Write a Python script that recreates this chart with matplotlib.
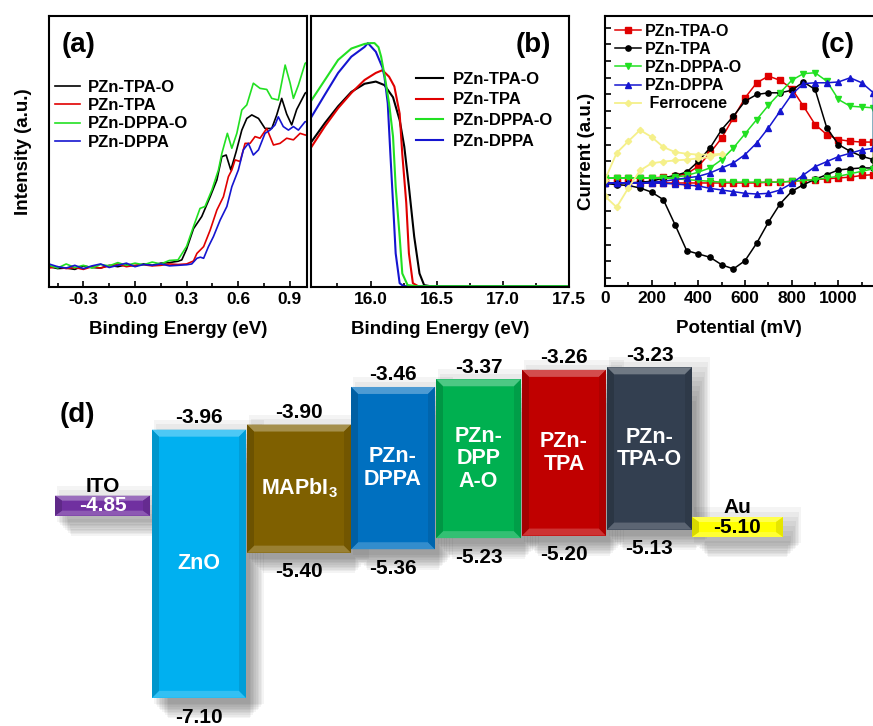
import matplotlib
matplotlib.use("Agg")
import matplotlib.pyplot as plt
import matplotlib.colors as mcolors
from matplotlib.patches import Polygon, Rectangle
from matplotlib.ticker import MultipleLocator

plt.rcParams['font.family'] = ['Liberation Sans', 'DejaVu Sans']
plt.rcParams['font.weight'] = 'bold'
plt.rcParams['mathtext.fontset'] = 'custom'
plt.rcParams['mathtext.rm'] = 'Liberation Sans:bold'
plt.rcParams['mathtext.bf'] = 'Liberation Sans:bold'

# ---------------- Panel (a): UPS onset ----------------
a_green_x = [-0.50, -0.45, -0.40, -0.35, -0.30, -0.25, -0.20, -0.15, -0.10, -0.05, 0.00, 0.05, 0.10, 0.15, 0.20, 0.25,
             0.30, 0.34, 0.378, 0.407, 0.447, 0.485, 0.505, 0.537, 0.563, 0.592, 0.621, 0.65, 0.688, 0.727, 0.766,
             0.795, 0.833, 0.873, 0.902, 0.921, 0.95, 0.989, 1.0]
a_green_y = [0.080, 0.070, 0.085, 0.072, 0.080, 0.070, 0.083, 0.078, 0.090, 0.080, 0.088, 0.082, 0.092, 0.085, 0.098, 0.100,
             0.150, 0.223, 0.290, 0.297, 0.358, 0.432, 0.493, 0.567, 0.512, 0.567, 0.653, 0.672, 0.752, 0.733, 0.729,
             0.696, 0.690, 0.819, 0.752, 0.696, 0.745, 0.825, 0.830]
a_black_x = [-0.50, -0.45, -0.40, -0.35, -0.30, -0.25, -0.20, -0.15, -0.10, -0.05, 0.00, 0.05, 0.10, 0.15, 0.20, 0.25,
             0.272, 0.30, 0.34, 0.388, 0.437, 0.476, 0.505, 0.53, 0.557, 0.588, 0.621, 0.65, 0.679, 0.718, 0.756,
             0.795, 0.824, 0.853, 0.882, 0.911, 0.94, 0.989, 1.0]
a_black_y = [0.075, 0.068, 0.070, 0.065, 0.078, 0.072, 0.070, 0.080, 0.075, 0.082, 0.078, 0.085, 0.080, 0.088, 0.090, 0.095,
             0.100, 0.140, 0.215, 0.260, 0.333, 0.395, 0.481, 0.487, 0.432, 0.499, 0.579, 0.622, 0.635, 0.622, 0.585,
             0.585, 0.635, 0.696, 0.638, 0.598, 0.655, 0.715, 0.720]
a_red_x = [-0.50, -0.45, -0.40, -0.35, -0.30, -0.25, -0.20, -0.15, -0.10, -0.05, 0.00, 0.05, 0.10, 0.15, 0.20, 0.25,
           0.30, 0.34, 0.36, 0.399, 0.437, 0.476, 0.514, 0.543, 0.563, 0.582, 0.611, 0.64, 0.669, 0.698, 0.727,
           0.766, 0.805, 0.843, 0.882, 0.921, 0.96, 0.989, 1.0]
a_red_y = [0.070, 0.075, 0.068, 0.072, 0.065, 0.075, 0.070, 0.078, 0.085, 0.075, 0.080, 0.082, 0.078, 0.080, 0.085, 0.083,
           0.085, 0.096, 0.124, 0.149, 0.210, 0.284, 0.333, 0.407, 0.432, 0.469, 0.463, 0.530, 0.530, 0.555, 0.549,
           0.585, 0.524, 0.530, 0.549, 0.543, 0.567, 0.561, 0.560]
a_blue_x = [-0.50, -0.45, -0.40, -0.35, -0.30, -0.25, -0.20, -0.15, -0.10, -0.05, 0.00, 0.05, 0.10, 0.15, 0.20, 0.25,
            0.30, 0.33, 0.36, 0.38, 0.399, 0.427, 0.456, 0.495, 0.534, 0.563, 0.601, 0.63, 0.659, 0.688, 0.718,
            0.756, 0.785, 0.814, 0.833, 0.862, 0.892, 0.921, 0.95, 0.989, 1.0]
a_blue_y = [0.085, 0.075, 0.070, 0.080, 0.068, 0.078, 0.085, 0.072, 0.080, 0.088, 0.075, 0.083, 0.080, 0.085, 0.078, 0.080,
            0.082, 0.085, 0.106, 0.110, 0.106, 0.149, 0.186, 0.247, 0.297, 0.370, 0.432, 0.506, 0.530, 0.487, 0.506,
            0.567, 0.579, 0.598, 0.628, 0.592, 0.579, 0.592, 0.579, 0.610, 0.610]

# ---------------- Panel (b): secondary electron cutoff ----------------
b_black_x = [15.555, 15.655, 15.755, 15.855, 15.955, 16.04, 16.105, 16.17, 16.22, 16.255, 16.29, 16.33, 16.37, 16.405, 16.45, 17.5]
b_black_y = [0.537, 0.605, 0.667, 0.720, 0.750, 0.758, 0.745, 0.700, 0.616, 0.518, 0.370, 0.186, 0.050, 0.007, 0.003, 0.003]
b_red_x = [15.555, 15.655, 15.755, 15.855, 15.955, 16.04, 16.09, 16.14, 16.18, 16.22, 16.24, 16.27, 16.29, 16.32, 16.36, 17.5]
b_red_y = [0.518, 0.593, 0.660, 0.716, 0.764, 0.790, 0.800, 0.776, 0.740, 0.640, 0.490, 0.310, 0.124, 0.014, 0.003, 0.003]
b_green_x = [15.555, 15.655, 15.755, 15.855, 15.955, 16.0, 16.03, 16.06, 16.08, 16.11, 16.14, 16.17, 16.19, 16.22, 16.24, 16.28, 16.35, 17.5]
b_green_y = [0.690, 0.764, 0.838, 0.880, 0.897, 0.900, 0.900, 0.885, 0.850, 0.770, 0.678, 0.555, 0.370, 0.186, 0.050, 0.007, 0.003, 0.003]
b_blue_x = [15.555, 15.655, 15.755, 15.855, 15.955, 15.98, 16.04, 16.09, 16.105, 16.13, 16.15, 16.17, 16.19, 16.22, 16.25, 17.5]
b_blue_y = [0.629, 0.710, 0.790, 0.850, 0.886, 0.900, 0.868, 0.810, 0.776, 0.678, 0.490, 0.310, 0.124, 0.014, 0.003, 0.003]

# ---------------- Panel (c): cyclic voltammetry ----------------
cv_fwd_x = [0, 50, 100, 150, 200, 250, 300, 350, 400, 450, 500, 550, 600, 650, 700, 750, 800, 850, 900, 950, 1000, 1050, 1100, 1150]
cv_rev_x = [1150, 1100, 1050, 1000, 950, 900, 850, 800, 750, 700, 650, 600, 550, 500, 450, 400, 350, 300, 250, 200, 150, 100, 50, 0]
tpao_fwd = [0.0, 0.0, 0.0, 0.0, 0.0, 0.05, 0.1, 0.25, 0.7, 1.5, 2.4, 3.6, 4.8, 5.7, 6.1, 5.85, 5.35, 4.3, 3.2, 2.6, 2.3, 2.2, 2.15, 2.15]
tpao_rev = [0.2, 0.15, 0.05, 0.0, -0.05, -0.1, -0.15, -0.2, -0.25, -0.25, -0.3, -0.3, -0.3, -0.3, -0.3, -0.3, -0.3, -0.3, -0.3, -0.3, -0.3, -0.3, -0.3, -0.3]
tpa_fwd = [-0.3, -0.3, -0.3, -0.25, -0.2, 0.0, 0.15, 0.35, 1.0, 1.8, 2.9, 3.7, 4.6, 5.0, 5.1, 5.1, 5.25, 5.75, 5.3, 3.0, 2.0, 1.6, 1.3, 1.1]
tpa_rev = [0.6, 0.6, 0.55, 0.48, 0.2, -0.08, -0.4, -0.8, -1.55, -2.65, -3.9, -4.95, -5.45, -5.2, -4.75, -4.55, -4.35, -2.8, -1.3, -0.85, -0.6, -0.45, -0.4, -0.33]
dppao_fwd = [0.0, 0.0, 0.0, 0.0, 0.0, 0.0, 0.05, 0.15, 0.35, 0.6, 1.1, 1.8, 2.65, 3.5, 4.35, 5.1, 5.85, 6.25, 6.3, 5.8, 4.7, 4.3, 4.25, 4.2]
dppao_rev = [0.55, 0.4, 0.25, 0.1, 0.0, -0.1, -0.15, -0.2, -0.25, -0.25, -0.25, -0.25, -0.25, -0.25, -0.2, -0.15, -0.1, -0.05, 0.0, 0.0, 0.0, 0.0, 0.0, 0.0]
dppa_fwd = [-0.3, -0.3, -0.3, -0.3, -0.25, -0.2, -0.1, 0.0, 0.1, 0.3, 0.6, 0.9, 1.4, 2.1, 3.0, 4.0, 5.0, 5.65, 5.7, 5.7, 5.75, 6.0, 5.7, 5.1]
dppa_rev = [1.78, 1.68, 1.48, 1.28, 0.98, 0.68, 0.18, -0.32, -0.72, -0.92, -0.96, -0.92, -0.82, -0.72, -0.62, -0.48, -0.42, -0.36, -0.32, -0.3, -0.3, -0.3, -0.3, -0.3]
fc_x = [0, 50, 100, 150, 200, 250, 300, 350, 400, 450, 500, 450, 400, 350, 300, 250, 200, 150, 100, 50, 0]
fc_y = [-0.1, 1.5, 2.2, 2.87, 2.45, 1.85, 1.55, 1.45, 1.4, 1.4, 1.45, 1.25, 1.17, 1.1, 1.05, 0.98, 0.88, 0.45, -0.6, -1.75, -1.1]

# ---------------- Panel (d): energy levels (eV) ----------------
layers = ['ITO', 'ZnO', 'MAPbI3', 'PZn-DPPA', 'PZn-DPPA-O', 'PZn-TPA', 'PZn-TPA-O', 'Au']
lumo = [None, -3.96, -3.90, -3.46, -3.37, -3.26, -3.23, None]
homo = [None, -7.10, -5.40, -5.36, -5.23, -5.20, -5.13, None]
work_fn = [-4.85, None, None, None, None, None, None, -5.10]
box_text = ['', 'ZnO', r'MAPbI$_3$', 'PZn-\nDPPA', 'PZn-\nDPP\nA-O', 'PZn-\nTPA', 'PZn-\nTPA-O', '']
box_colors = ['#7030A0', '#00B0F0', '#7F6000', '#0070C0', '#00B050', '#C00000', '#333F50', '#FFFF00']

# layout (pixels)
box_widths = [95, 94, 104, 84, 85, 84, 85, 91]
box_gaps = [2, 1, 0, 1, 1, 1, 0, 0]
start_x = 55

W, H = 873, 726
fig = plt.figure(figsize=(W / 100, H / 100), dpi=100)


def frac(l, t, r, b):
    return [l / W, 1 - b / H, (r - l) / W, (b - t) / H]


C_BLACK, C_RED, C_GREEN, C_BLUE = '#000000', '#E00000', '#22E022', '#1515D0'
tick_fs = 12.5
lab_fs = 13.5

# ---- (a)
axa = fig.add_axes(frac(49, 16, 307, 287))
la = [axa.plot(a_black_x, a_black_y, color=C_BLACK, lw=1.2, label='PZn-TPA-O')[0],
      axa.plot(a_red_x, a_red_y, color=C_RED, lw=1.2, label='PZn-TPA')[0],
      axa.plot(a_green_x, a_green_y, color=C_GREEN, lw=1.2, label='PZn-DPPA-O')[0],
      axa.plot(a_blue_x, a_blue_y, color=C_BLUE, lw=1.2, label='PZn-DPPA')[0]]
axa.set_xlim(-0.5, 1.0)
axa.set_ylim(0, 1)
axa.set_xticks([-0.3, 0.0, 0.3, 0.6, 0.9])
axa.set_xticklabels(['-0.3', '0.0', '0.3', '0.6', '0.9'], fontweight='bold')
axa.xaxis.set_minor_locator(MultipleLocator(0.15))
axa.set_yticks([])
axa.tick_params(axis='x', which='both', direction='in', labelsize=tick_fs, width=1.2)
axa.tick_params(axis='x', which='major', length=4)
axa.tick_params(axis='x', which='minor', length=3)
axa.set_xlabel('Binding Energy (eV)', fontsize=lab_fs, fontweight='bold', labelpad=10)
axa.set_ylabel('Intensity (a.u.)', fontsize=lab_fs, fontweight='bold', labelpad=12)
axa.legend(handles=la, loc='upper left', bbox_to_anchor=(-0.035, 0.82), frameon=False,
           prop={'weight': 'bold', 'size': 12}, handlelength=1.5, handletextpad=0.5, labelspacing=0.2)
axa.text(0.05, 0.94, '(a)', transform=axa.transAxes, fontsize=20, fontweight='bold', va='top')

# ---- (b)
axb = fig.add_axes(frac(311, 16, 569, 287))
lb_black = axb.plot(b_black_x, b_black_y, color=C_BLACK, lw=1.5, label='PZn-TPA-O')[0]
lb_red = axb.plot(b_red_x, b_red_y, color=C_RED, lw=1.5, label='PZn-TPA')[0]
lb_blue = axb.plot(b_blue_x, b_blue_y, color=C_BLUE, lw=1.5, label='PZn-DPPA')[0]
lb_green = axb.plot(b_green_x, b_green_y, color=C_GREEN, lw=1.5, label='PZn-DPPA-O')[0]
axb.set_xlim(15.55, 17.5)
axb.set_ylim(0, 1)
axb.set_xticks([16.0, 16.5, 17.0, 17.5])
axb.set_xticklabels(['16.0', '16.5', '17.0', '17.5'], fontweight='bold')
axb.xaxis.set_minor_locator(MultipleLocator(0.25))
axb.set_yticks([])
axb.tick_params(axis='x', which='both', direction='in', labelsize=tick_fs, width=1.2)
axb.tick_params(axis='x', which='major', length=4)
axb.tick_params(axis='x', which='minor', length=3)
axb.set_xlabel('Binding Energy (eV)', fontsize=lab_fs, fontweight='bold', labelpad=10)
axb.legend(handles=[lb_black, lb_red, lb_green, lb_blue], loc='upper left', bbox_to_anchor=(0.35, 0.85),
           frameon=False, prop={'weight': 'bold', 'size': 12}, handlelength=1.6, handletextpad=0.6,
           labelspacing=0.35)
axb.text(0.93, 0.94, '(b)', transform=axb.transAxes, fontsize=20, fontweight='bold', va='top', ha='right')

# ---- (c)
axc = fig.add_axes(frac(605, 16, 873, 286))
mk = dict(markersize=3.8, lw=1.1)
l1, = axc.plot(cv_fwd_x + cv_rev_x, tpao_fwd + tpao_rev, color=C_RED, marker='s', label='PZn-TPA-O', **mk)
l2, = axc.plot(cv_fwd_x + cv_rev_x, tpa_fwd + tpa_rev, color=C_BLACK, marker='o', label='PZn-TPA', **mk)
l3, = axc.plot(cv_fwd_x + cv_rev_x, dppao_fwd + dppao_rev, color=C_GREEN, marker='v', label='PZn-DPPA-O', **mk)
l4, = axc.plot(cv_fwd_x + cv_rev_x, dppa_fwd + dppa_rev, color=C_BLUE, marker='^', label='PZn-DPPA', **mk)
l5, = axc.plot(fc_x, fc_y, color='#F5F08A', marker='D', markersize=3.2, lw=1.3, label=' Ferrocene')
axc.set_xlim(0, 1148)
axc.set_ylim(-6.47, 9.7)
axc.set_xticks([0, 200, 400, 600, 800, 1000])
axc.set_xticklabels(['0', '200', '400', '600', '800', '1000'], fontweight='bold')
axc.xaxis.set_minor_locator(MultipleLocator(100))
axc.yaxis.set_major_locator(MultipleLocator(1))
axc.set_yticklabels([])
axc.tick_params(axis='both', which='both', direction='in', labelsize=tick_fs, width=1.2)
axc.tick_params(axis='both', which='major', length=4)
axc.tick_params(axis='x', which='minor', length=3)
axc.spines['right'].set_visible(False)
axc.set_xlabel('Potential (mV)', fontsize=lab_fs, fontweight='bold', labelpad=10)
axc.set_ylabel('Current (a.u.)', fontsize=lab_fs, fontweight='bold', labelpad=4)
axc.legend(handles=[l1, l2, l3, l4, l5], loc='upper left', bbox_to_anchor=(-0.015, 1.025), frameon=False,
           prop={'weight': 'bold', 'size': 11.5}, handlelength=1.6, handletextpad=0.25, labelspacing=0.2)
axc.text(0.93, 0.94, '(c)', transform=axc.transAxes, fontsize=20, fontweight='bold', va='top', ha='right')

for ax in (axa, axb, axc):
    for s in ax.spines.values():
        s.set_linewidth(1.5)

# ---- (d)
axd = fig.add_axes([0, 0, 1, 386 / H])
axd.set_xlim(0, W)
axd.set_ylim(-7.43, -2.91)
axd.axis('off')

px_per_ev = 386 / (7.43 - 2.91)
bev_x = 7
bev_y = 7 / px_per_ev


def shade(c, f):
    r, g, b = mcolors.to_rgb(c)
    if f > 0:
        return (r + (1 - r) * f, g + (1 - g) * f, b + (1 - b) * f)
    return (r * (1 + f), g * (1 + f), b * (1 + f))


def draw_box(x0, x1, yb, yt, color, z=2):
    # soft drop shadow (offset right and down)
    n = 10
    for k in range(n):
        grow = k * 1.6
        axd.add_patch(Rectangle((x0 + 2 + grow, yb - (6 + grow) / px_per_ev),
                                (x1 - x0) + 16 - 2 * grow,
                                (yt - yb) + (16 - 2 * grow) / px_per_ev,
                                facecolor='black', alpha=0.045, edgecolor='none', zorder=z - 1))
    axd.add_patch(Rectangle((x0, yb), x1 - x0, yt - yb, facecolor=color, edgecolor='none', zorder=z))
    bx = min(bev_x, (x1 - x0) / 4)
    by = min(bev_y, (yt - yb) / 4)
    top = [(x0, yt), (x1, yt), (x1 - bx, yt - by), (x0 + bx, yt - by)]
    bot = [(x0, yb), (x1, yb), (x1 - bx, yb + by), (x0 + bx, yb + by)]
    left = [(x0, yb), (x0, yt), (x0 + bx, yt - by), (x0 + bx, yb + by)]
    right = [(x1, yb), (x1, yt), (x1 - bx, yt - by), (x1 - bx, yb + by)]
    axd.add_patch(Polygon(top, closed=True, facecolor=shade(color, 0.3), edgecolor='none', zorder=z + 0.1))
    axd.add_patch(Polygon(bot, closed=True, facecolor=shade(color, 0.2), edgecolor='none', zorder=z + 0.1))
    axd.add_patch(Polygon(left, closed=True, facecolor=shade(color, -0.15), edgecolor='none', zorder=z + 0.1))
    axd.add_patch(Polygon(right, closed=True, facecolor=shade(color, -0.1), edgecolor='none', zorder=z + 0.1))


num_fs = 15
x = start_x
for i, name in enumerate(layers):
    w = box_widths[i]
    x0, x1 = x, x + w
    xc = (x0 + x1) / 2
    col = box_colors[i]
    if work_fn[i] is not None:
        half = 10 / px_per_ev
        draw_box(x0, x1, work_fn[i] - half, work_fn[i] + half, col)
        txt_col = 'white' if name == 'ITO' else 'black'
        axd.text(xc, work_fn[i], f'{work_fn[i]:.2f}', ha='center', va='center', color=txt_col,
                 fontsize=num_fs, fontweight='bold', zorder=5)
        axd.annotate(name, (xc, work_fn[i] + half), xytext=(0, 0), textcoords='offset points',
                     ha='center', va='bottom', fontsize=num_fs, fontweight='bold', zorder=5)
    else:
        draw_box(x0, x1, homo[i], lumo[i], col)
        axd.text(xc, (homo[i] + lumo[i]) / 2, box_text[i], ha='center', va='center', color='white',
                 fontsize=15.5, fontweight='bold', linespacing=1.1, zorder=5)
        axd.annotate(f'{lumo[i]:.2f}', (xc, lumo[i]), xytext=(0, 2), textcoords='offset points',
                     ha='center', va='bottom', fontsize=num_fs, fontweight='bold', zorder=5)
        axd.annotate(f'{homo[i]:.2f}', (xc, homo[i]), xytext=(0, -7), textcoords='offset points',
                     ha='center', va='top', fontsize=num_fs, fontweight='bold', zorder=5)
    x = x1 + box_gaps[i]

fig.text(60 / W, 1 - 415 / H, '(d)', fontsize=20, fontweight='bold', va='center', ha='left')

fig.savefig('out.png', dpi=100)
